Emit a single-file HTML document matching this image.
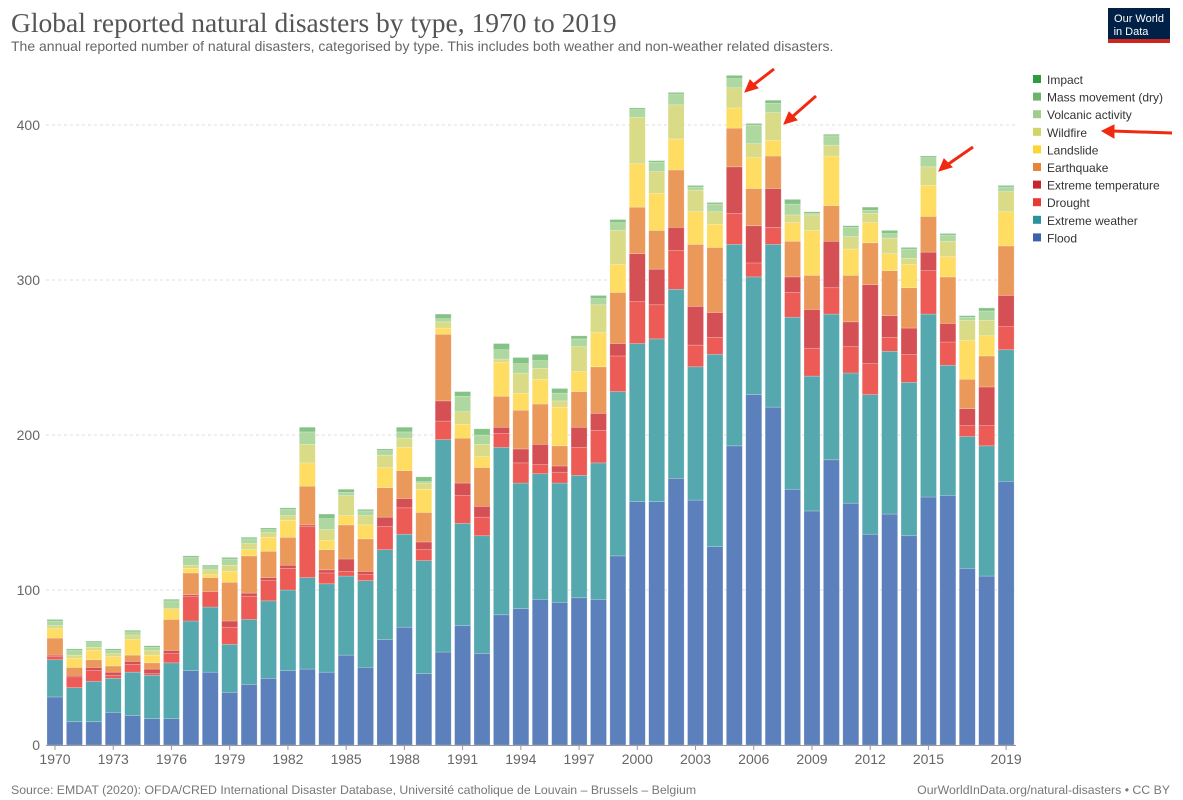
<!DOCTYPE html>
<html><head><meta charset="utf-8">
<style>
body{margin:0;background:#fff;font-family:"Liberation Sans",sans-serif;}
svg{display:block}
</style></head>
<body>
<svg id="chart" width="1183" height="800" xmlns="http://www.w3.org/2000/svg">
<text x="11" y="32" font-family="Liberation Serif,serif" font-size="27.5" fill="#555">Global reported natural disasters by type, 1970 to 2019</text>
<text x="11" y="51" font-size="14" fill="#666">The annual reported number of natural disasters, categorised by type. This includes both weather and non-weather related disasters.</text>
<g>
<rect x="1108" y="8" width="62" height="35" fill="#002147"/>
<rect x="1108" y="39" width="62" height="4" fill="#ce261e"/>
<text x="1139" y="22" font-size="11" fill="#fff" text-anchor="middle">Our World</text>
<text x="1131" y="35" font-size="11" fill="#fff" text-anchor="middle">in Data</text>
</g>
<g id="grid"></g>
<g id="bars"></g>
<g id="xaxis"></g>
<g id="legend"></g>
<g stroke="#f02a10" fill="#f02a10">
<line x1="774" y1="69" x2="752" y2="86" stroke-width="3"/><polygon points="745,92 750,80 758,88"/>
<line x1="816" y1="96" x2="792" y2="117" stroke-width="3"/><polygon points="784,124 789,112 797,120"/>
<line x1="973" y1="147" x2="947" y2="165" stroke-width="3"/><polygon points="939,171 944,159 952,167"/>
<line x1="1172" y1="133" x2="1112" y2="131" stroke-width="3"/><polygon points="1102,131 1114,125 1114,138"/>
</g>
<text x="11" y="794" font-size="12.3" fill="#777">Source: EMDAT (2020): OFDA/CRED International Disaster Database, Université catholique de Louvain – Brussels – Belgium</text>
<text x="1170" y="794" font-size="12.3" fill="#777" text-anchor="end">OurWorldInData.org/natural-disasters • CC BY</text>
</svg>
<script>
const years=[];for(let y=1970;y<=2019;y++)years.push(y);
const flood=[31,15,15,21,19,17,17,48,47,34,39,43,48,49,47,58,50,68,76,46,60,77,59,84,88,94,92,95,94,122,157,157,172,158,128,193,226,218,165,151,184,156,136,149,135,160,161,114,109,170];
const extremeWeather=[24,22,26,22,28,28,36,32,42,31,42,50,52,59,57,51,56,58,60,73,137,66,76,108,81,81,77,79,88,106,102,105,122,86,124,130,76,105,111,87,94,84,90,105,99,118,84,85,84,85];
const drought=[2,7,7,2,5,1,6,16,10,11,15,13,14,33,7,3,4,15,17,7,12,18,12,9,13,6,7,18,21,23,27,22,25,14,11,20,9,11,16,18,17,17,20,9,18,28,15,7,13,15];
const extremeTemp=[1,1,2,2,2,3,2,1,0,4,2,2,2,1,2,8,2,6,6,5,13,8,7,4,9,13,4,13,11,8,31,23,15,25,16,30,24,25,10,25,30,16,51,14,17,12,12,11,25,20];
const earthquake=[11,5,5,4,4,4,20,14,9,25,24,17,18,25,13,22,21,19,18,19,43,29,25,20,25,26,13,23,30,33,30,25,37,40,42,25,24,21,23,22,23,30,27,29,26,23,30,19,20,32];
const landslide=[6,6,6,6,10,5,7,3,2,7,4,9,11,15,6,6,9,13,15,15,4,9,7,22,11,16,25,13,22,18,28,24,20,21,15,13,20,10,12,29,32,17,13,11,15,20,13,25,13,22];
const wildfire=[2,2,2,2,3,3,0,2,3,4,4,3,3,12,7,13,6,8,6,4,4,8,8,2,13,7,4,16,18,22,30,14,22,14,8,13,9,18,5,10,7,8,6,10,4,12,10,13,10,13];
const volcanic=[3,3,3,2,2,2,5,5,2,4,3,2,4,8,7,2,3,3,4,1,2,10,6,6,6,5,5,5,4,5,5,6,7,2,5,6,12,6,7,1,6,6,2,3,6,6,4,2,6,3];
const massMovement=[1,1,1,1,1,1,1,1,1,1,1,1,1,3,3,2,1,1,3,3,3,3,4,4,4,4,3,2,2,2,1,1,1,1,1,2,1,2,3,1,1,1,2,2,1,1,1,1,2,1];
const impact=[0,0,0,0,0,0,0,0,0,0,0,0,0,0,0,0,0,0,0,0,0,0,0,0,0,0,0,0,0,0,0,0,0,0,0,0,0,0,0,0,0,0,0,0,0,0,0,0,0,0];
const yTicks=[0,100,200,300,400];
const xTickYears=[1970,1973,1976,1979,1982,1985,1988,1991,1994,1997,2000,2003,2006,2009,2012,2015,2019];
const seriesNames=["Flood","Extreme weather","Drought","Extreme temperature","Earthquake","Landslide","Wildfire","Volcanic activity","Mass movement (dry)","Impact"];
const seriesData=[flood,extremeWeather,drought,extremeTemp,earthquake,landslide,wildfire,volcanic,massMovement,impact];
const barColors=["#5b80bb","#55a8ae","#ec5b55","#d55055","#ea995a","#fedd62","#d9db86","#afd7a0","#85c286","#3a9d48"];
const legendColors=["#3a62ad","#2a9399","#e63a36","#c8262f","#e7833b","#fdd433","#d1d466","#9fcd8e","#6db36c","#2e9b3f"];
const NS="http://www.w3.org/2000/svg";
const y0=745,pxPer=1.55,x0=55,step=19.41,bw=16;
const yScale=v=>y0-v*pxPer;
const xScale=yr=>x0+(yr-1970)*step;
function mk(tag,attrs,parent){const e=document.createElementNS(NS,tag);for(const k in attrs)e.setAttribute(k,attrs[k]);parent.appendChild(e);return e;}
const grid=document.getElementById('grid');
yTicks.forEach(t=>{
  if(t>0){const l=mk('line',{x1:46,x2:1016,y1:yScale(t),y2:yScale(t),stroke:'#ddd','stroke-dasharray':'3,3'},grid);
  
  }
  const tx=mk('text',{x:40,y:yScale(t)+5,'font-size':14,fill:'#666','text-anchor':'end'},grid);
  tx.textContent=t;
  
  
});
const bars=document.getElementById('bars');
years.forEach((yr,i)=>{
  let cum=0;
  const g=mk('g',{},bars);
  
  
  seriesData.forEach((s,k)=>{
    const v=s[i];if(v<=0)return;
    const r=mk('rect',{x:xScale(yr)-bw/2,y:yScale(cum+v),width:bw,height:v*pxPer,fill:barColors[k],stroke:'#fff','stroke-opacity':0.35,'stroke-width':0.6},g);
    
    
    cum+=v;
  });
});
const xa=document.getElementById('xaxis');
const ax=mk('line',{x1:46,x2:1016,y1:y0+0.5,y2:y0+0.5,stroke:'#999'},xa);


xTickYears.forEach(yr=>{
  mk('line',{x1:xScale(yr),x2:xScale(yr),y1:y0,y2:y0+5,stroke:'#999'},xa);
  const t=mk('text',{x:xScale(yr),y:764,'font-size':14,fill:'#666','text-anchor':'middle'},xa);
  t.textContent=yr;
  
  
});
const lg=document.getElementById('legend');
for(let k=9;k>=0;k--){
  const idx=9-k;const yy=80+idx*17.6;
  const g=mk('g',{},lg);
  
  
  mk('rect',{x:1033,y:yy-5,width:8,height:8,fill:legendColors[k]},g);
  const t=mk('text',{x:1047,y:yy+4,'font-size':12,fill:'#333'},g);
  t.textContent=seriesNames[k];
}
</script>
</body></html>
